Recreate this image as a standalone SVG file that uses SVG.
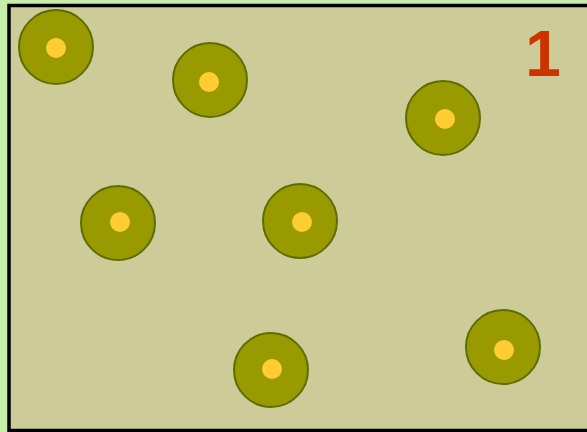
<svg xmlns="http://www.w3.org/2000/svg" width="587" height="432" viewBox="0 0 587 432">
<style>
.disc{fill:#999900;stroke:#5c6e00;stroke-width:2}
.dot{fill:#ffcc33}
.num{font-family:"Liberation Sans",Arial,sans-serif;font-weight:bold;font-size:64px;fill:#cc3300}
</style>
<rect x="0" y="0" width="587" height="432" fill="#c8ecaa"/>
<rect x="9" y="5.5" width="600" height="425" fill="#cdcc99" stroke="#000" stroke-width="3.5"/>
<g id="n1"><circle class="disc" cx="56" cy="47" r="37"/><circle class="dot" cx="56" cy="48" r="10"/></g>
<g id="n2"><circle class="disc" cx="210" cy="80" r="37"/><circle class="dot" cx="209" cy="82" r="10"/></g>
<g id="n3"><circle class="disc" cx="443" cy="118" r="37"/><circle class="dot" cx="445" cy="119" r="10"/></g>
<g id="n4"><circle class="disc" cx="118" cy="223" r="37"/><circle class="dot" cx="120" cy="222" r="10"/></g>
<g id="n5"><circle class="disc" cx="300" cy="221" r="37"/><circle class="dot" cx="302" cy="222" r="10"/></g>
<g id="n6"><circle class="disc" cx="271" cy="370" r="37"/><circle class="dot" cx="272" cy="369" r="10"/></g>
<g id="n7"><circle class="disc" cx="503" cy="347" r="37"/><circle class="dot" cx="504" cy="350" r="10"/></g>
<g id="connectors"></g>
<text class="num" x="543" y="76" text-anchor="middle">1</text>
</svg>
